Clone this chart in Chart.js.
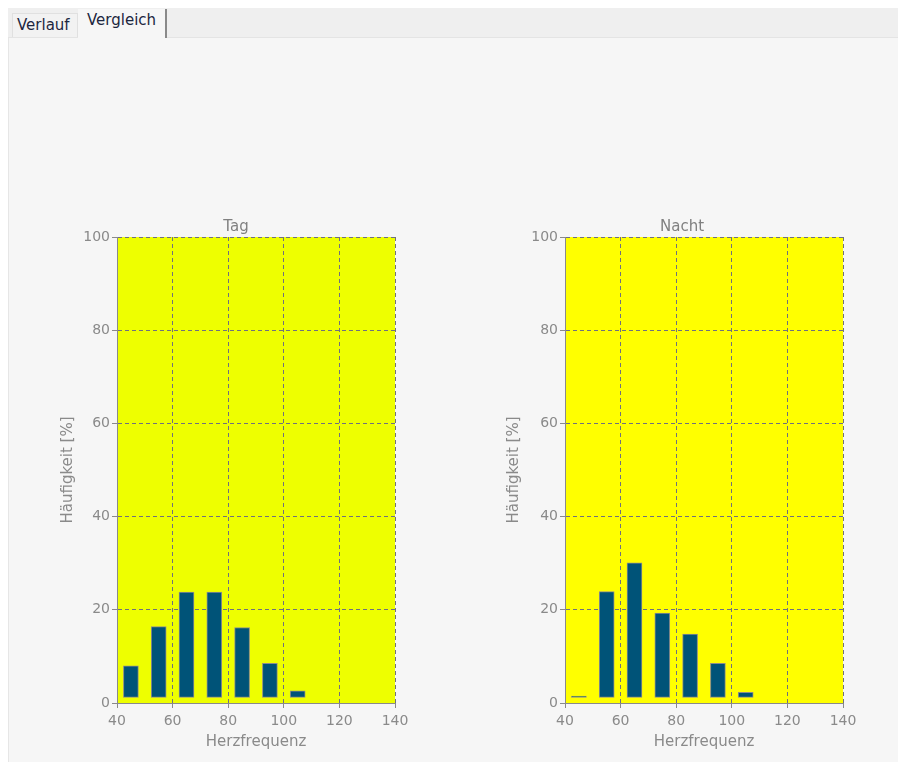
<!DOCTYPE html>
<html>
<head>
<meta charset="utf-8">
<script src="https://cdn.jsdelivr.net/npm/chart.js@4"></script>
<style>
  html, body { margin: 0; padding: 0; background: #ffffff; width: 898px; height: 762px; overflow: hidden; font-family: "DejaVu Sans", Verdana, sans-serif; }
  #strip { position: absolute; left: 8px; top: 8px; width: 890px; height: 29px; background: #efefef; border-bottom: 1px solid #e4e4e4; }
  #panel { position: absolute; left: 8px; top: 38px; width: 890px; height: 724px; background: #f6f6f6; border-left: 1px solid #e6e6e6; }
  .tab { position: absolute; font-size: 15px; color: #1c2640; box-sizing: border-box; }
  #t1 { left: 12px; top: 13px; width: 66px; height: 24px; background: #f2f2f2; border: 1px solid #e0e0e0; border-bottom: none; padding: 2px 0 0 4px; }
  #t2 { left: 78px; top: 9px; width: 89px; height: 29px; background: #f6f6f6; border-right: 2px solid #8a8a8a; padding: 2px 0 0 9px; }
  canvas { position: absolute; }
  #c1 { left: 50px; top: 205px; }
  #c2 { left: 495px; top: 205px; }
</style>
</head>
<body>
<div id="strip"></div>
<div id="panel"></div>
<div class="tab" id="t1">Verlauf</div>
<div class="tab" id="t2">Vergleich</div>
<canvas id="c1" width="370" height="546"></canvas>
<canvas id="c2" width="370" height="546"></canvas>
<script>
// ---- data ----
const binCenters = [45, 55, 65, 75, 85, 95, 105];
const barBase = 1.2;
const tagValues = [8.0, 16.4, 23.8, 23.8, 16.2, 8.5, 2.6];
const nachtValues = [1.5, 23.9, 30.1, 19.3, 14.8, 8.5, 2.3];
const xTicks = [40, 60, 80, 100, 120, 140];
const yTicks = [0, 20, 40, 60, 80, 100];
const chartTitles = ['Tag', 'Nacht'];
const xAxisTitle = 'Herzfrequenz';
const yAxisTitle = 'Häufigkeit [%]';

const FONT = '"DejaVu Sans", Verdana, sans-serif';
const GRID = '#70707e';
const AXIS = '#8a8a8a';
const TXT = '#8a8a8a';

const plotBg = {
  id: 'plotBg',
  beforeDraw(chart, args, opts) {
    const a = chart.chartArea, ctx = chart.ctx;
    ctx.save();
    ctx.fillStyle = opts.color;
    ctx.fillRect(a.left, a.top, a.right - a.left, a.bottom - a.top);
    ctx.restore();
  }
};

function makeChart(id, title, values, bg, padL, padR, yAxisW, yTitlePad) {
  return new Chart(document.getElementById(id), {
    type: 'bar',
    data: {
      datasets: [{
        data: binCenters.map((x, i) => ({ x: x, y: [barBase, values[i]] })),
        backgroundColor: '#005378',
        borderColor: '#8c8c8c',
        borderWidth: 1,
        borderSkipped: false,
        barThickness: 15
      }]
    },
    options: {
      responsive: false,
      animation: false,
      events: [],
      layout: { padding: { left: padL, right: padR, top: 0, bottom: 0 } },
      plugins: {
        legend: { display: false },
        tooltip: { enabled: false },
        title: {
          display: true, text: title, color: '#808080',
          font: { family: FONT, size: 15, weight: 'normal' },
          padding: { top: 13, bottom: 1 }
        },
        plotBg: { color: bg }
      },
      scales: {
        x: {
          type: 'linear', min: 40, max: 140, offset: false,
          afterBuildTicks(s) { s.ticks = xTicks.map(v => ({ value: v })); },
          afterFit(s) { s.height = 48; },
          ticks: { color: TXT, font: { family: FONT, size: 14 }, padding: 5, maxRotation: 0 },
          grid: {
            offset: false,
            color: c => (c.tick && c.tick.value === 40) ? 'rgba(0,0,0,0)' : GRID,
            tickColor: AXIS, tickLength: 5, lineWidth: 1
          },
          border: { display: true, color: AXIS, width: 1, dash: [4, 3] },
          title: { display: true, text: xAxisTitle, color: TXT, font: { family: FONT, size: 15 }, padding: { top: 0, bottom: 0 } }
        },
        y: {
          min: 0, max: 100,
          afterBuildTicks(s) { s.ticks = yTicks.map(v => ({ value: v })); },
          afterFit(s) { s.width = yAxisW; },
          ticks: { color: TXT, font: { family: FONT, size: 14 }, padding: 2 },
          grid: {
            color: c => (c.tick && c.tick.value === 0) ? 'rgba(0,0,0,0)' : GRID,
            tickColor: AXIS, tickLength: 5, lineWidth: 1
          },
          border: { display: true, color: AXIS, width: 1, dash: [4, 3] },
          title: { display: true, text: yAxisTitle, color: TXT, font: { family: FONT, size: 15 }, padding: { top: yTitlePad, bottom: 0 } }
        }
      }
    },
    plugins: [plotBg]
  });
}

makeChart('c1', chartTitles[0], tagValues, '#eeff00', 27, 25, 40, -18);
makeChart('c2', chartTitles[1], nachtValues, '#ffff00', 26, 22, 44, -16);
</script>
</body>
</html>
